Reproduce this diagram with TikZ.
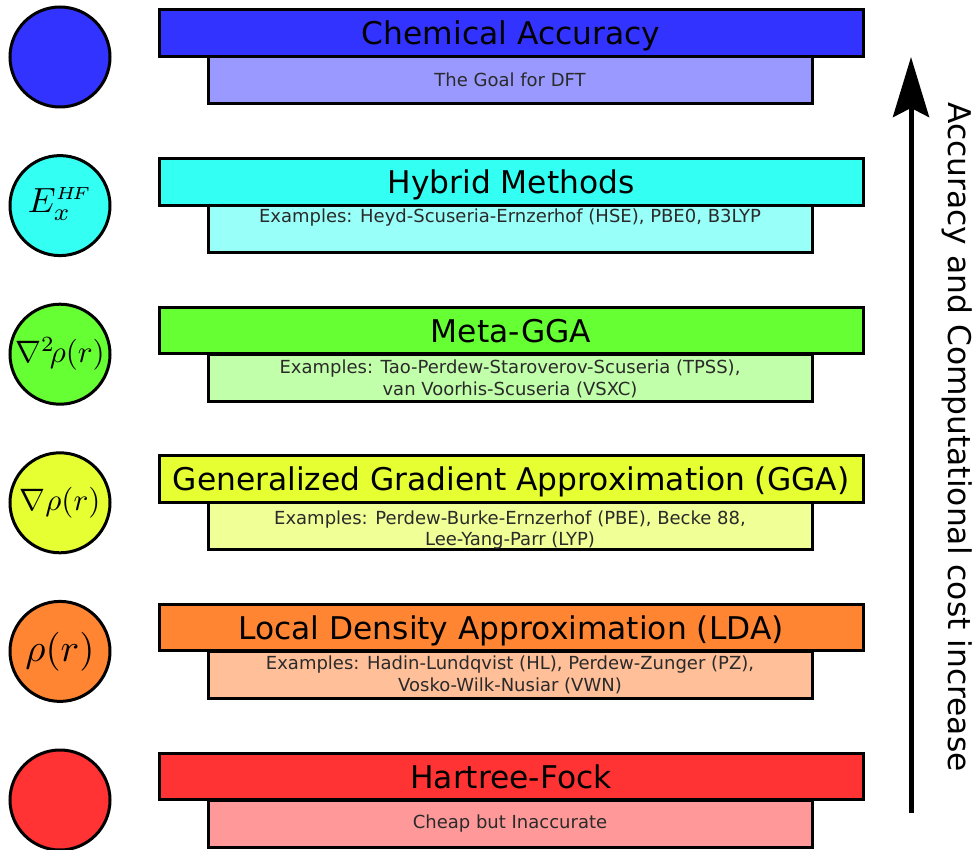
\documentclass[tikz,border=0pt]{standalone}
\usepackage{graphicx}
\usepackage{fontspec}
\setmainfont{DejaVu Sans}
\usetikzlibrary{arrows.meta}

\definecolor{blueA}{HTML}{3333FF}\definecolor{blueB}{HTML}{9999FF}
\definecolor{cyanA}{HTML}{33FFF3}\definecolor{cyanB}{HTML}{99FFF9}
\definecolor{greenA}{HTML}{66FF33}\definecolor{greenB}{HTML}{C2FFAA}
\definecolor{yellowA}{HTML}{E6FF33}\definecolor{yellowB}{HTML}{F0FF96}
\definecolor{orangeA}{HTML}{FF8533}\definecolor{orangeB}{HTML}{FFBF99}
\definecolor{redA}{HTML}{FF3333}\definecolor{redB}{HTML}{FF9999}
\definecolor{subtext}{HTML}{2A2A2A}

% enlarged formula for the level circles
\newcommand{\levelformula}[2][3.1]{\scalebox{#1}{$#2$}}

\tikzset{
  bar/.style={draw=black, line width=3pt, rectangle, inner sep=0pt,
    minimum width=704pt, minimum height=46.5pt},
  subbar/.style={draw=black, line width=3pt, rectangle, inner sep=0pt,
    minimum width=604pt, minimum height=47pt},
  barlabel/.style={anchor=base, inner sep=0pt, text=black,
    font=\fontsize{31.3}{36}\selectfont},
  sublabel/.style={anchor=base, inner sep=0pt, text=subtext,
    font=\fontsize{18}{22}\selectfont},
  level/.style={draw=black, line width=3pt, circle, inner sep=0pt,
    minimum size=100pt},
  levelmath/.style={inner sep=0pt, font=\normalsize},
}

\begin{document}
\begin{tikzpicture}[x=1pt, y=-1pt]
\useasboundingbox (0,0) rectangle (976,850);

% ---- Chemical accuracy
\node[subbar, fill=blueB] (s1) at (510,80.5) {};
\node[bar, fill=blueA] (b1) at (511,33.25) {};
\node[barlabel] (t1) at (511,45) {Chemical Accuracy};
\node[sublabel] (u1) at (510,87) {The Goal for DFT};
\node[level, fill=blueA] (c1) at (60,57) {};

% ---- Hybrid methods
\node[subbar, fill=cyanB] (s2) at (510,229.1) {};
\node[bar, fill=cyanA] (b2) at (511,181.85) {};
\node[barlabel] (t2) at (511,193.6) {Hybrid Methods};
\node[sublabel] (u2) at (510,222.5) {Examples: Heyd-Scuseria-Ernzerhof (HSE), PBE0, B3LYP};
\node[level, fill=cyanA] (c2) at (60,205.6) {};
\node[levelmath] (m2) at (60,204) {\levelformula[3.5]{E_{x}^{\scriptscriptstyle H\!F}}};

% ---- Meta-GGA
\node[subbar, fill=greenB] (s3) at (510,377.7) {};
\node[bar, fill=greenA] (b3) at (511,330.45) {};
\node[barlabel] (t3) at (511,342.2) {Meta-GGA};
\node[sublabel] (u3a) at (510,373.5) {Examples: Tao-Perdew-Staroverov-Scuseria (TPSS),};
\node[sublabel] (u3b) at (510,395.5) {van Voorhis-Scuseria (VSXC)};
\node[level, fill=greenA] (c3) at (60,354.2) {};
\node[levelmath] (m3) at (c3.center) {\levelformula{\nabla^2\!\rho(r)}};

% ---- GGA
\node[subbar, fill=yellowB] (s4) at (510,526.3) {};
\node[bar, fill=yellowA] (b4) at (511,479.05) {};
\node[barlabel] (t4) at (511,490.8) {Generalized Gradient Approximation (GGA)};
\node[sublabel] (u4a) at (510,524) {Examples: Perdew-Burke-Ernzerhof (PBE), Becke 88,};
\node[sublabel] (u4b) at (510,545.5) {Lee-Yang-Parr (LYP)};
\node[level, fill=yellowA] (c4) at (60,502.8) {};
\node[levelmath] (m4) at (c4.center) {\levelformula{\nabla\rho(r)}};

% ---- LDA
\node[subbar, fill=orangeB] (s5) at (510,674.9) {};
\node[bar, fill=orangeA] (b5) at (511,627.65) {};
\node[barlabel] (t5) at (511,639.4) {Local Density Approximation (LDA)};
\node[sublabel] (u5a) at (510,669.5) {Examples: Hadin-Lundqvist (HL), Perdew-Zunger (PZ),};
\node[sublabel] (u5b) at (510,691.5) {Vosko-Wilk-Nusiar (VWN)};
\node[level, fill=orangeA] (c5) at (60,651.4) {};
\node[levelmath] (m5) at (c5.center) {\levelformula[3.9]{\rho(r)}};

% ---- Hartree-Fock
\node[subbar, fill=redB] (s6) at (510,823.5) {};
\node[bar, fill=redA] (b6) at (511,776.25) {};
\node[barlabel] (t6) at (511,788) {Hartree-Fock};
\node[sublabel] (u6) at (510,828.5) {Cheap but Inaccurate};
\node[level, fill=redA] (c6) at (60,800) {};

% ---- trend arrow and its caption
\coordinate (abot) at (911,813);
\coordinate (atop) at (911,57);
\draw[line width=5pt, -{Stealth[length=60pt, width=36pt, inset=9pt]}] (abot) -- (atop);
\node[rotate=-90, inner sep=0pt, font=\fontsize{31.3}{36}\selectfont] (lbl) at (957,437)
  {Accuracy and Computational cost increase};
\end{tikzpicture}
\end{document}
